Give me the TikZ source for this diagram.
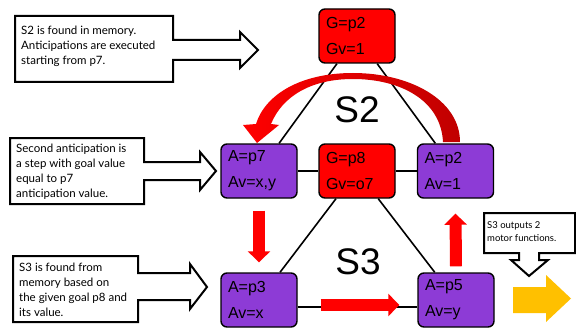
\documentclass[tikz,border=0pt]{standalone}
\usepackage{fontspec}
\setmainfont{Liberation Sans}
\newfontfamily\notefont{Lato}
\usetikzlibrary{arrows.meta}
\definecolor{violet1}{RGB}{141,59,214}
\definecolor{darkred1}{RGB}{192,0,0}
\definecolor{amber}{RGB}{255,192,0}
\tikzstyle{goal}=[draw, line width=1.4pt, rounded corners=6pt, fill=red,
minimum width=76pt, minimum height=54pt, text width=62pt, inner xsep=7pt,
align=left, font=\fontsize{16}{26}\selectfont]
\tikzstyle{antic}=[goal, fill=violet1]
\tikzstyle{link}=[line width=1.6pt]
\tikzstyle{flow}=[line width=12pt, red, -{Triangle[length=11pt,width=22pt]}]
\tikzstyle{note}=[draw, line width=2pt, fill=white]
\tikzstyle{notetext}=[anchor=north west, inner sep=0pt, align=left,
font=\notefont\fontsize{11.5}{15}\selectfont]

\begin{document}
\begin{tikzpicture}[x=1pt,y=-1pt]
\useasboundingbox[fill=white] (0,0) rectangle (576,329);
% states
\node[goal](gp2) at (357,36) {G=p2\\Gv=1};
\node[antic](ap7) at (259,171) {A=p7\\Av=x,y};
\node[goal](gp8) at (357,171) {G=p8\\Gv=o7};
\node[antic](ap2) at (455.5,171) {A=p2\\Av=1};
\node[antic](ap3) at (259,300) {A=p3\\Av=x};
\node[antic](ap5) at (456,300) {A=p5\\Av=y};
\node[font=\fontsize{37}{40}\selectfont](s2) at (357,110) {S2};
\node[font=\fontsize{37}{40}\selectfont](s3) at (358,262) {S3};
% triangles
\draw[link](gp2) -- (ap7);
\draw[link](gp2) -- (ap2);
\draw[link](ap7) -- (gp8);
\draw[link](gp8) -- (ap2);
\draw[link](gp8) -- (ap3);
\draw[link](gp8) -- (ap5);
\draw[link]([yshift=-7pt]ap3.east) -- ([yshift=-7pt]ap5.west);
% execution order
\shade[left color=red, right color=darkred1]
(460,142) .. controls (460,100) and (410,73) .. (353,73)
.. controls (300,73) and (265,95) .. (256,124) -- (243,125) -- (257,143)
-- (279,125) -- (271,124) .. controls (282,97) and (310,79) .. (353,79)
.. controls (400,79) and (441,100) .. (443,142) -- cycle;
\draw[flow]([yshift=-12pt]ap7.south) -- ([yshift=10pt]ap3.north);
\draw[flow]([xshift=23pt,yshift=-5pt]ap3.east) -- ([xshift=-18pt,yshift=-5pt]ap5.west);
\draw[flow]([yshift=6pt]ap5.north) -- ([yshift=-15pt]ap2.south);
\fill[amber] (513,287) -- (546,287) -- (546,275) -- (571,298.5) -- (546,322)
-- (546,313) -- (513,313) -- cycle;
% notes
\draw[note] (15,16) -- (173,16) -- (173,40) -- (240,40) -- (240,32) -- (258,50)
-- (240,68) -- (240,60) -- (173,60) -- (173,82) -- (15,82) -- cycle;
\node[notetext](note1) at (21,26) {S2 is found in memory.\\Anticipations are executed\\starting from p7.};
\draw[note] (10,138) -- (144,138) -- (144,162) -- (200,162) -- (200,152) -- (216,171)
-- (200,190) -- (200,180) -- (144,180) -- (144,204) -- (10,204) -- cycle;
\node[notetext](note2) at (16,144) {Second anticipation is\\a step with goal value\\equal to p7\\anticipation value.};
\draw[note] (13,256) -- (138,256) -- (138,273) -- (190,273) -- (190,264) -- (207,287)
-- (190,309) -- (190,300) -- (138,300) -- (138,322) -- (13,322) -- cycle;
\node[notetext](note3) at (19,263) {S3 is found from\\memory based on\\the given goal p8 and\\its value.};
\draw[note] (484,213) -- (575,213) -- (575,253) -- (539,253) -- (539,260) -- (548,260)
-- (529,276) -- (511,260) -- (519,260) -- (519,253) -- (484,253) -- cycle;
\node[notetext, font=\notefont\fontsize{9.5}{13}\selectfont](note4) at (487,221) {S3 outputs 2\\motor functions.};
\end{tikzpicture}
\end{document}
